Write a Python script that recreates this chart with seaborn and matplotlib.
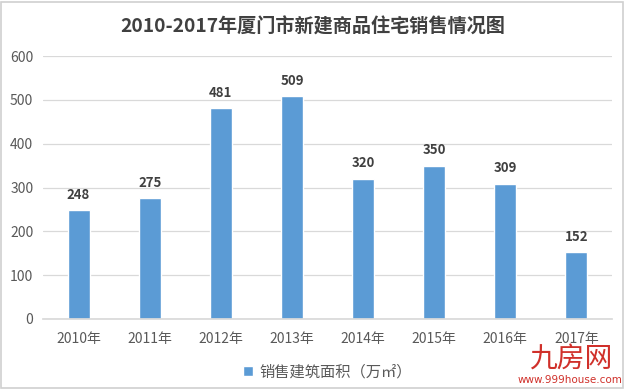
import matplotlib
matplotlib.use("Agg")
import matplotlib.pyplot as plt
import seaborn as sns
import pandas as pd
from matplotlib.patches import Rectangle

years = ["2010年", "2011年", "2012年", "2013年", "2014年", "2015年", "2016年", "2017年"]
values = [248, 275, 481, 509, 320, 350, 309, 152]
series_name = "销售建筑面积（万㎡）"
title = "2010-2017年厦门市新建商品住宅销售情况图"
yticks = [0, 100, 200, 300, 400, 500, 600]

sns.set_theme(style="white")
plt.rcParams['font.family'] = ['Noto Sans CJK SC', 'DejaVu Sans']

df = pd.DataFrame({"year": years, "value": values})

fig = plt.figure(figsize=(6.25, 3.89), dpi=100)
ax = fig.add_axes([43/625, 1-319/389, (612-43)/625, (319-56)/389])

bar_color = "#5B9BD5"
sns.barplot(data=df, x="year", y="value", color=bar_color, width=0.31, ax=ax,
            saturation=1, label=series_name)

ax.set_ylim(0, 600)
ax.set_xlim(-0.5, len(years) - 0.5)
ax.set_yticks(yticks)
ax.yaxis.grid(True, color="#D9D9D9", linewidth=0.9)
ax.set_axisbelow(True)
for s in ["top", "right", "left"]:
    ax.spines[s].set_visible(False)
ax.spines["bottom"].set_color("#D9D9D9")
ax.set_xlabel("")
ax.set_ylabel("")
ax.tick_params(axis="both", length=0, colors="#595959", labelsize=10)
ax.tick_params(axis="x", pad=9)
ax.tick_params(axis="y", pad=7)

for i, v in enumerate(values):
    ax.annotate(str(v), xy=(i, v), xytext=(0, 11), textcoords="offset points",
                ha="center", va="center", fontsize=9.5,
                fontweight="bold", color="#404040")

fig.text(0.5, 1 - 27/389, title, ha="center", va="center", fontsize=13.8,
         fontweight="bold", color="#404040")

leg = ax.legend(loc="center", bbox_to_anchor=(0.5, (319 - 372) / (319 - 56)),
                frameon=False, fontsize=11, handlelength=0.65, handleheight=0.65,
                handletextpad=0.4)
for t in leg.get_texts():
    t.set_color("#595959")

# watermark
fig.text(571/625, 1 - 360/389, "九房网", ha="center", va="center", fontsize=20,
         color="#D0302A")
fig.text(570/625, 1 - 380/389, "www.999house.com", ha="center", va="center",
         fontsize=7.5, color="#D0302A", family="DejaVu Sans")

# outer frame
fig.patches.append(Rectangle((0.002, 0.003), 0.995, 0.993, transform=fig.transFigure,
                             fill=False, edgecolor="#D0D0D0", linewidth=1.2))

fig.savefig("out.png", dpi=100)
